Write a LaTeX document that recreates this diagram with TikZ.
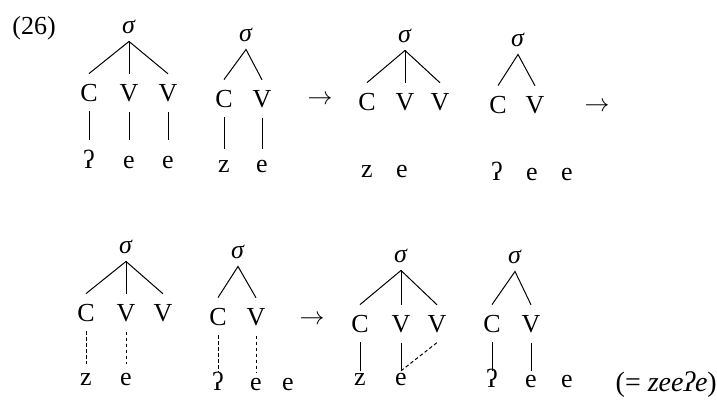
\documentclass[tikz,border=0pt]{standalone}
\usepackage{fontspec}
\setmainfont{Liberation Serif}
\newfontfamily\ipa{Liberation Serif}
\newcommand{\gs}{{\ipa ʔ}}
\begin{document}
\begin{tikzpicture}[x=1pt,y=-1pt,
  every node/.style={font=\fontsize{26}{30}\selectfont},
  sig/.style={anchor=base, inner xsep=0pt, inner ysep=8pt},
  cv/.style={anchor=base, inner xsep=0pt, inner ysep=10pt},
  seg/.style={anchor=base, inner xsep=0pt, inner ysep=10pt, text height=11pt, text depth=0pt},
  arr/.style={anchor=base, inner sep=0pt},
  ln/.style={line width=1pt},
  dl/.style={line width=1pt, dash pattern=on 3.5pt off 2.5pt}]
\useasboundingbox (0,0) rectangle (717,405);
\fill[white] (0,0) rectangle (717,405);

\node[anchor=base, inner sep=0pt] (lab) at (34,34) {(26)};

% ---------- tree 1
\node[sig] (s1) at (129,33) {\textit{σ}};
\node[cv] (c1a) at (89,101) {C};
\node[cv] (c1b) at (129,101) {V};
\node[cv] (c1c) at (168,101) {V};
\begin{scope}[seg/.append style={inner ysep=17pt}]
\node[seg] (t1a) at (89,168) {\gs};
\node[seg] (t1b) at (129,168) {e};
\node[seg] (t1c) at (168,168) {e};
\end{scope}
\draw[ln] (c1a.north) -- (s1.south) -- (c1c.north);
\draw[ln] (s1.south) -- (c1b.north);
\draw[ln] (c1a.south) -- (t1a.north);
\draw[ln] (c1b.south) -- (t1b.north);
\draw[ln] (c1c.south) -- (t1c.north);

% ---------- tree 2
\node[sig] (s2) at (246,41) {\textit{σ}};
\node[cv] (c2a) at (224,107) {C};
\node[cv] (c2b) at (262,107) {V};
\begin{scope}[seg/.append style={inner ysep=12pt}]
\node[seg] (t2a) at (224,172) {z};
\node[seg] (t2b) at (262,172) {e};
\end{scope}
\draw[ln] (c2a.north) -- (s2.south) -- (c2b.north);
\draw[ln] (c2a.south) -- (t2a.north);
\draw[ln] (c2b.south) -- (t2b.north);

\node[arr] (a1) at (320,104) {$\rightarrow$};

% ---------- tree 3
\node[sig] (s3) at (405,42) {\textit{σ}};
\node[cv] (c3a) at (367,110) {C};
\node[cv] (c3b) at (405,110) {V};
\node[cv] (c3c) at (440,110) {V};
\node[seg] (t3a) at (367,177) {z};
\node[seg] (t3b) at (402,177) {e};
\draw[ln] (c3a.north) -- (s3.south) -- (c3c.north);
\draw[ln] (s3.south) -- (c3b.north);

% ---------- tree 4
\node[sig] (s4) at (518,46) {\textit{σ}};
\node[cv] (c4a) at (498,113) {C};
\node[cv] (c4b) at (535,113) {V};
\node[seg] (t4a) at (497,180) {\gs};
\node[seg] (t4b) at (532,180) {e};
\node[seg] (t4c) at (567,180) {e};
\draw[ln] (c4a.north) -- (s4.south) -- (c4b.north);

\node[arr] (a2) at (597,111) {$\rightarrow$};

% ---------- tree 5
\node[sig] (s5) at (126,253) {\textit{σ}};
\node[cv] (c5a) at (86,321) {C};
\node[cv] (c5b) at (126,321) {V};
\node[cv] (c5c) at (163,321) {V};
\begin{scope}[seg/.append style={inner ysep=10pt}]
\node[seg] (t5a) at (86,385) {z};
\node[seg] (t5b) at (126,385) {e};
\end{scope}
\draw[ln] (c5a.north) -- (s5.south) -- (c5c.north);
\draw[ln] (s5.south) -- (c5b.north);
\draw[dl] (c5a.south) -- (t5a.north);
\draw[dl] (c5b.south) -- (t5b.north);

% ---------- tree 6
\node[sig] (s6) at (238,258) {\textit{σ}};
\node[cv] (c6a) at (218,325) {C};
\node[cv] (c6b) at (256,325) {V};
\begin{scope}[seg/.append style={inner ysep=7pt}]
\node[seg] (t6a) at (218,390) {\gs};
\node[seg] (t6b) at (256,390) {e};
\node[seg] (t6c) at (288,390) {e};
\end{scope}
\draw[ln] (c6a.north) -- (s6.south) -- (c6b.north);
\draw[dl] (c6a.south) -- (t6a.north);
\draw[dl] (c6b.south) -- (t6b.north);

\node[arr] (a3) at (312,324) {$\rightarrow$};

% ---------- tree 7
\node[sig] (s7) at (401,262) {\textit{σ}};
\node[cv] (c7a) at (360,332) {C};
\node[cv] (c7b) at (401,332) {V};
\node[cv] (c7c) at (437,332) {V};
\begin{scope}[seg/.append style={inner ysep=3pt}]
\node[seg] (t7a) at (360,385) {z};
\node[seg] (t7b) at (401,385) {e};
\end{scope}
\draw[ln] (c7a.north) -- (s7.south) -- (c7c.north);
\draw[ln] (s7.south) -- (c7b.north);
\draw[ln] (c7a.south) -- (t7a.north);
\draw[ln] (c7b.south) -- (t7b.north);
\draw[dl] (t7b.north) -- (c7c.south);

% ---------- tree 8
\node[sig] (s8) at (515,263) {\textit{σ}};
\node[cv] (c8a) at (492,332) {C};
\node[cv] (c8b) at (531,332) {V};
\begin{scope}[seg/.append style={inner ysep=5pt}]
\node[seg] (t8a) at (492,387) {\gs};
\node[seg] (t8b) at (531,387) {e};
\node[seg] (t8c) at (567,387) {e};
\end{scope}
\draw[ln] (c8a.north) -- (s8.south) -- (c8b.north);
\draw[ln] (c8a.south) -- (t8a.north);
\draw[ln] (c8b.south) -- (t8b.north);

\node[anchor=base east, inner sep=0pt, font=\fontsize{28}{32}\selectfont] (gloss) at (717,391) {(=\ \textit{zee}{\ipa\itshape ʔ}\textit{e})};
\end{tikzpicture}
\end{document}
